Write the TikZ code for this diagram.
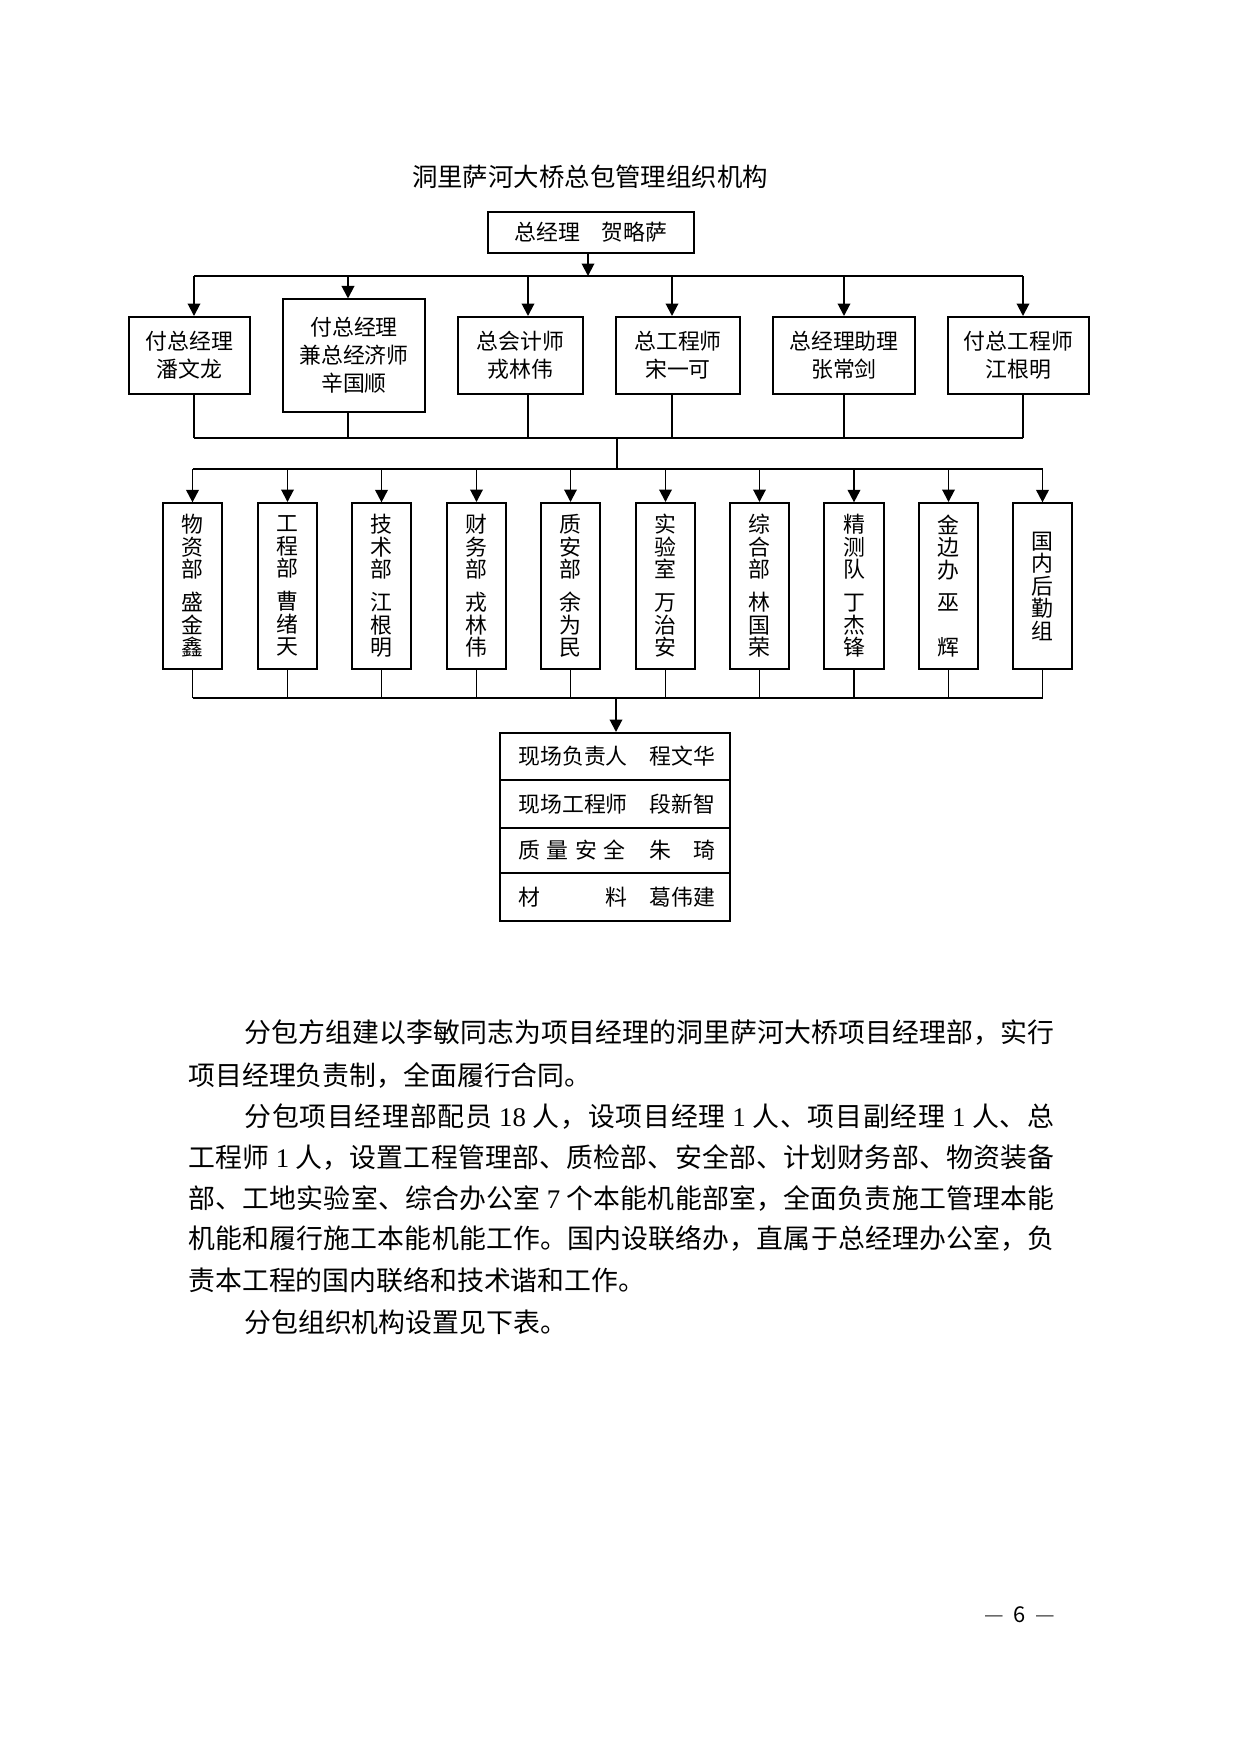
\documentclass[tikz,border=0pt]{standalone}
\usepackage{fontspec}
\newfontfamily\cjk{Noto Sans CJK SC}
\newfontfamily\lat{Liberation Serif}
\usetikzlibrary{arrows.meta}
\def\spMark{}
\def\spMarkM{\spMark}
\def\spread#1{\spFirst#1\spMark}
\def\spFirst#1{#1\spNext}
\def\spNext#1{\def\sptmp{#1}\ifx\sptmp\spMarkM\else\hfil#1\expandafter\spNext\fi}
\newcommand\chartfont{\cjk\fontsize{10.5pt}{13.4pt}\selectfont}
\newcommand\deptfont{\cjk\fontsize{10.5pt}{10.8pt}\selectfont}
\newcommand\bodyfont{\cjk\fontsize{12.9pt}{15pt}\selectfont}
\newcommand\mkbox[7][]{\node[box,#1,minimum width={(#5-#3)*0.48pt},minimum height={(#6-#4)*0.48pt}] (#2) at ({(#3+#5)/2},{(#4+#6)/2}) {#7};}
\begin{document}
\begin{tikzpicture}[x=0.48pt,y=-0.48pt,
  box/.style={draw,line width=0.95pt,inner sep=0pt,align=center,font=\chartfont},
  dept/.style={box,font=\deptfont},
  dthin/.style={line width=0.6pt},
  thk/.style={line width=0.95pt},
  thn/.style={line width=0.5pt},
  arr/.style={thk,-{Triangle[length=6pt,width=6pt]}},
  body/.style={anchor=west,inner sep=0pt,font=\bodyfont},
  cell/.style={anchor=west,inner sep=0pt,font=\chartfont}]
\useasboundingbox (0,0) rectangle (1241,1754);
\fill[white] (0,0) rectangle (1241,1754);
% title
\node[font=\cjk\fontsize{12.2pt}{14pt}\selectfont] (title) at (590,177) {洞里萨河大桥总包管理组织机构};
% top
\mkbox[line width=0.8pt]{top}{488}{212}{694}{253}{总经理　贺略萨}
% row 2
\mkbox{b1}{129}{317}{250}{394}{付总经理\\潘文龙}
\mkbox[thn]{b2}{283}{299}{425}{412}{付总经理\\兼总经济师\\辛国顺}
\mkbox{b3}{458}{317}{583}{394}{总会计师\\戎林伟}
\mkbox{b4}{616}{317}{740}{394}{总工程师\\宋一可}
\mkbox{b5}{773}{317}{915}{394}{总经理助理\\张常剑}
\mkbox{b6}{948}{317}{1089}{394}{付总工程师\\江根明}
% departments
\mkbox[dept,dthin]{d1}{163}{503}{222}{669}{物\\资\\部\\[5pt]盛\\金\\鑫}
\mkbox[dept]{d2}{258}{503}{317}{669}{工\\程\\部\\[5pt]曹\\绪\\天}
\mkbox[dept,dthin]{d3}{352}{503}{411}{669}{技\\术\\部\\[5pt]江\\根\\明}
\mkbox[dept]{d4}{447}{503}{506}{669}{财\\务\\部\\[5pt]戎\\林\\伟}
\mkbox[dept]{d5}{541}{503}{600}{669}{质\\安\\部\\[5pt]余\\为\\民}
\mkbox[dept]{d6}{636}{503}{695}{669}{实\\验\\室\\[5pt]万\\治\\安}
\mkbox[dept]{d7}{730}{503}{789}{669}{综\\合\\部\\[5pt]林\\国\\荣}
\mkbox[dept,dthin]{d8}{824}{503}{884}{669}{精\\测\\队\\[5pt]丁\\杰\\锋}
\mkbox[dept]{d9}{919}{503}{978}{669}{金\\边\\办\\[5pt]巫\\\mbox{}\\辉}
\mkbox[dept,dthin]{d10}{1013}{503}{1072}{669}{国\\内\\后\\勤\\组}
% table
\node[draw,thk,inner sep=0pt,minimum width={230*0.48pt},minimum height={188*0.48pt}] (tbl) at (615,827) {};
\coordinate (r1) at (615,780);
\coordinate (r2) at (615,828);
\coordinate (r3) at (615,873);
\draw[thk] (tbl.west |- r1) -- (tbl.east |- r1);
\draw[thn] (tbl.west |- r2) -- (tbl.east |- r2);
\draw[thn] (tbl.west |- r3) -- (tbl.east |- r3);
\node[cell] (c1) at (518,756.5) {现场负责人　程文华};
\node[cell] (c2) at (518,804) {现场工程师　段新智};
\node[cell] (c3) at (518,850.5) {\makebox[4.9em][s]{质\hfil 量\hfil 安\hfil 全}\hspace{0.1em}　朱　琦};
\node[cell] (c4) at (518,897) {\makebox[5em][s]{材\hfil 料}　葛伟建};
% connectors
\coordinate (p0) at (588,276);
\coordinate (p1) at (194,276);
\coordinate (p2) at (348,276);
\coordinate (p3) at (528,276);
\coordinate (p4) at (672,276);
\coordinate (p5) at (844,276);
\coordinate (p6) at (1023,276);
\coordinate (busB) at (617,438);
\coordinate (busC) at (617,469);
\coordinate (busD) at (616,698);
\draw[arr] (top.south -| p0) -- (p0);
\draw[thn] (p1) -- (p6);
\foreach \i in {1,...,6} {\draw[arr] (p\i) -- (p\i |- b\i.north);}
\foreach \i in {1,3,4,5,6} {\draw[thk] (p\i |- b\i.south) -- (p\i |- busB);}
\draw[thn] (p2 |- b2.south) -- (p2 |- busB);
\draw[thk] (p1 |- busB) -- (p6 |- busB);
\draw[thn] (busB) -- (busC);
\draw[thk] (d1.north |- busC) -- (d10.north |- busC);
\foreach \i in {1,...,10} {\draw[arr] (d\i.north |- busC) -- (d\i.north);}
\foreach \i in {1,...,10} {\draw[thn] (d\i.south) -- (d\i.south |- busD);}
\draw[thn] (d1.south |- busD) -- (d10.south |- busD);
\draw[arr] (busD) -- (busD |- tbl.north);
% body text
\node[body] (l1) at (244,1033) {\makebox[388.8pt][s]{\spread{分包方组建以李敏同志为项目经理的洞里萨河大桥项目经理部，实行}}};
\node[body] (l2) at (188,1075) {项目经理负责制，全面履行合同。};
\node[body] (l3) at (244,1117) {\makebox[388.8pt][s]{\spread{分包项目经理部配员{\ {\lat 18}\ }人，设项目经理{\ {\lat 1}\ }人、项目副经理{\ {\lat 1}\ }人、总}}};
\node[body] (l4) at (188,1157) {\makebox[415.7pt][s]{\spread{工程师{\ {\lat 1}\ }人，设置工程管理部、质检部、安全部、计划财务部、物资装备}}};
\node[body] (l5) at (188,1198) {\makebox[415.7pt][s]{\spread{部、工地实验室、综合办公室{\ {\lat 7}\ }个本能机能部室，全面负责施工管理本能}}};
\node[body] (l6) at (188,1238) {\makebox[415.7pt][s]{\spread{机能和履行施工本能机能工作。国内设联络办，直属于总经理办公室，负}}};
\node[body] (l7) at (188,1280) {责本工程的国内联络和技术谐和工作。};
\node[body] (l8) at (244,1322) {分包组织机构设置见下表。};
% page number
\node[font=\cjk\fontsize{10.5pt}{12pt}\selectfont] (pg) at (1020,1615) {{\color{black!70}—}\hspace{0.45em}6\hspace{0.45em}{\color{black!70}—}};
\end{tikzpicture}
\end{document}
